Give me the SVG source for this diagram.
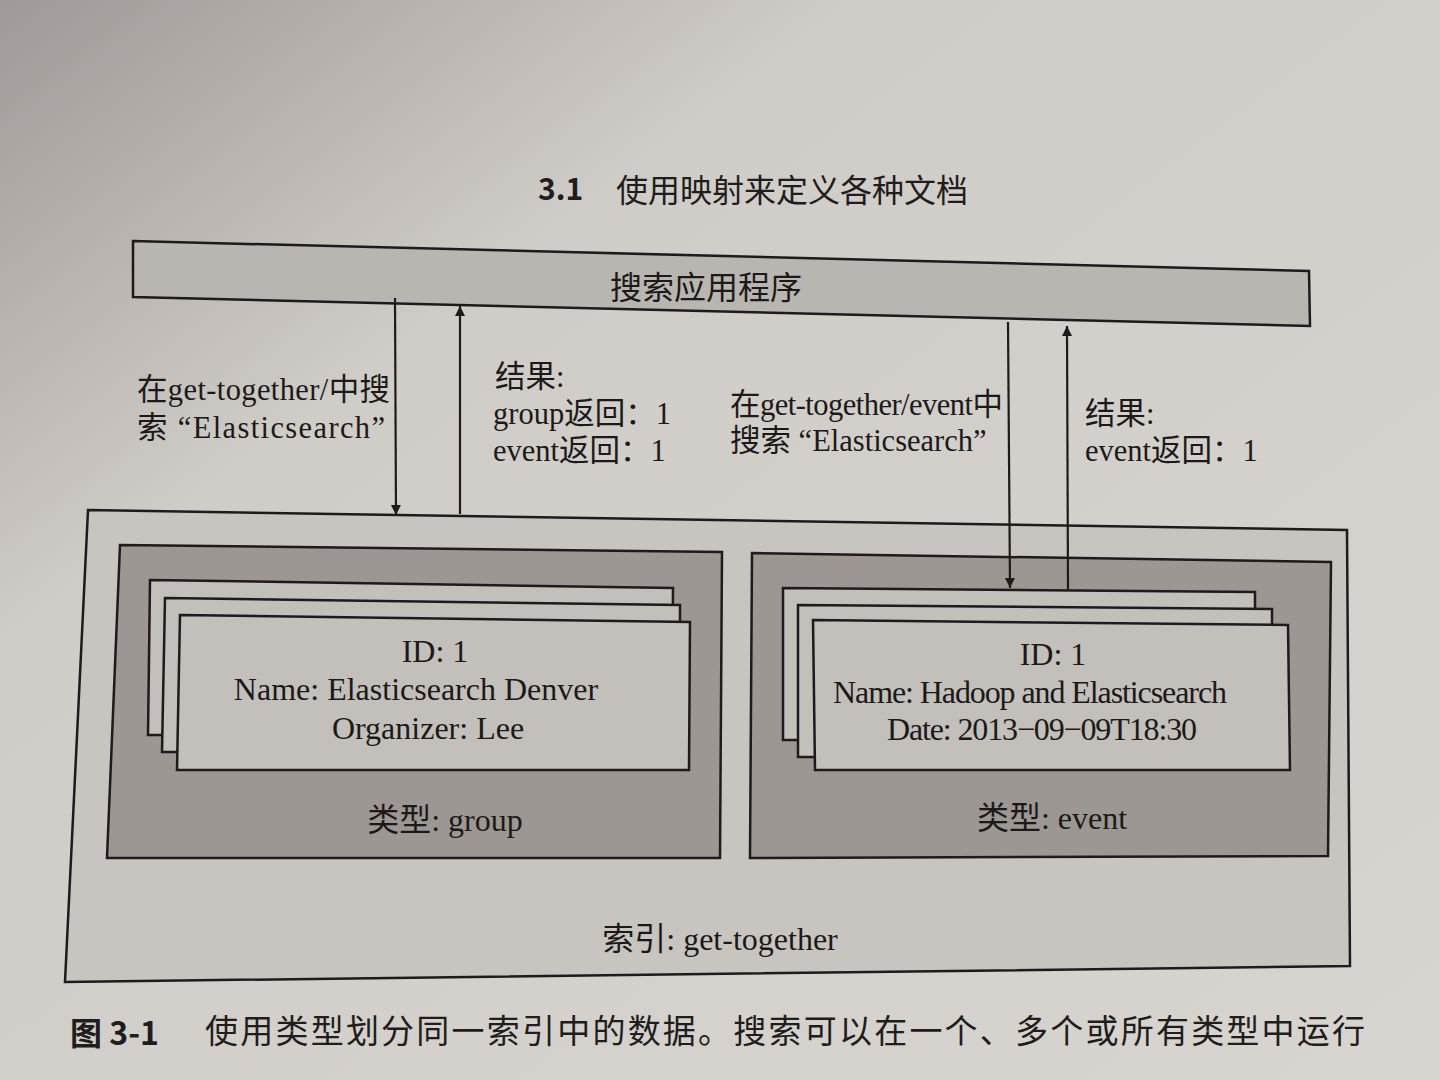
<svg xmlns="http://www.w3.org/2000/svg" width="1440" height="1080" viewBox="0 0 1440 1080">
<defs>
<linearGradient id="paper" x1="0" y1="0" x2="1" y2="1">
<stop offset="0" stop-color="#9f9a97"/>
<stop offset="0.3" stop-color="#d0ccc8"/>
<stop offset="1" stop-color="#d8d4cf"/>
</linearGradient>
<marker id="ah" viewBox="0 0 10 20" refX="10" refY="10" markerWidth="10" markerHeight="20" markerUnits="userSpaceOnUse" orient="auto">
<path d="M0,5 L10,10 L0,15 Z" fill="#1e1b1a"/>
</marker>
<style>
.ln{stroke:#1e1b1a;stroke-width:2.5;stroke-linejoin:miter}
.bar{fill:#b9b5b1}
.outer{fill:#c8c4c0}
.inner{fill:#9c9793}
.doc{fill:#c3bfbb}
.t{font-family:"Liberation Serif","Noto Sans CJK SC",serif;fill:#1c1a19;font-size:32px}
.lb{font-size:30.5px}
.c{text-anchor:middle}
.h{font-family:"Noto Sans CJK SC","Liberation Sans",sans-serif;fill:#201d1c}
.con{stroke:#1e1b1a;stroke-width:2.2;fill:none}
</style>
</defs>
<rect width="1440" height="1080" fill="url(#paper)"/>
<text class="h" x="538" y="200" font-size="30" font-weight="bold">3.1</text>
<text class="h" x="616" y="202" font-size="32">使用映射来定义各种文档</text>

<g id="app">
<polygon class="bar ln" points="133,241 1309,271 1310,326 133,297"/>
<text class="t c" x="706" y="299" font-size="31">搜索应用程序</text>
</g>

<g id="index">
<polygon class="outer ln" points="88,510 1347,530 1350,966 65,982"/>
<text class="t c" x="720" y="950">索引: get-together</text>
</g>

<g id="type-group">
<polygon class="inner ln" points="120,545 722,552 720,858 107,858"/>
<text class="t c" x="445" y="831">类型: group</text>
</g>
<g id="docs-group">
<polygon class="doc ln" points="150,580 673,588 672,735 148,735"/>
<polygon class="doc ln" points="165,598 680,605 680,752 162,752"/>
<polygon class="doc ln" points="180,615 690,622 689,770 177,770"/>
<text class="t c" x="435" y="662">ID: 1</text>
<text class="t c" x="416" y="700">Name: Elasticsearch Denver</text>
<text class="t c" x="428" y="739">Organizer: Lee</text>
</g>

<g id="type-event">
<polygon class="inner ln" points="752,553 1331,562 1328,856 750,858"/>
<text class="t c" x="1052" y="829">类型: event</text>
</g>
<g id="docs-event">
<polygon class="doc ln" points="783,588 1255,592 1255,740 783,740"/>
<polygon class="doc ln" points="798,605 1272,609 1272,757 798,757"/>
<polygon class="doc ln" points="813,620 1288,625 1290,770 815,770"/>
<text class="t c" x="1053" y="665">ID: 1</text>
<text class="t c" x="1030" y="703" textLength="394">Name: Hadoop and Elasticsearch</text>
<text class="t c" x="1042" y="740" textLength="310">Date: 2013−09−09T18:30</text>
</g>

<g id="connectors">
<line class="con" x1="395" y1="298" x2="396" y2="515" marker-end="url(#ah)"/>
<line class="con" x1="460" y1="514" x2="460" y2="306" marker-end="url(#ah)"/>
<line class="con" x1="1008" y1="322" x2="1010" y2="588" marker-end="url(#ah)"/>
<line class="con" x1="1068" y1="590" x2="1067" y2="326" marker-end="url(#ah)"/>
</g>

<g id="labels">
<text class="t lb" x="137" y="400" textLength="253">在get-together/中搜</text>
<text class="t lb" x="137" y="438" textLength="248">索 “Elasticsearch”</text>
<text class="t lb" x="495" y="387">结果:</text>
<text class="t lb" x="493" y="424">group返回：1</text>
<text class="t lb" x="493" y="461">event返回：1</text>
<text class="t lb" x="730" y="415" textLength="273">在get-together/event中</text>
<text class="t lb" x="730" y="451">搜索 “Elasticsearch”</text>
<text class="t lb" x="1085" y="424">结果:</text>
<text class="t lb" x="1085" y="461">event返回：1</text>
</g>

<text class="h" x="70" y="1045" font-size="32" font-weight="bold">图 3-1</text>
<text class="h" x="205" y="1043" font-size="33" textLength="1160">使用类型划分同一索引中的数据。搜索可以在一个、多个或所有类型中运行</text>
</svg>
